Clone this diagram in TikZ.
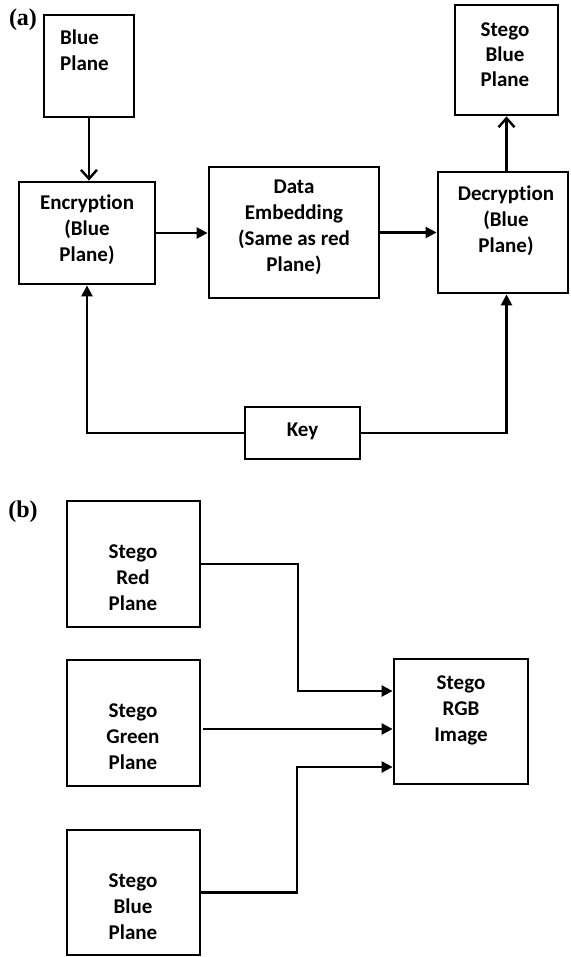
\documentclass[tikz,border=0pt]{standalone}
\usepackage{fontspec}
\setmainfont{Carlito}[Ligatures=NoCommon]
\newfontfamily\panelfont{Liberation Serif}
\usetikzlibrary{arrows.meta}
\begin{document}
\begin{tikzpicture}[x=1pt,y=-1pt,
  box/.style={draw, line width=2.8pt, inner sep=0pt},
  txt/.style={font=\fontsize{21}{26}\selectfont\bfseries, align=center, inner sep=0pt},
  panel/.style={font=\panelfont\fontsize{24}{26}\selectfont\bfseries, inner sep=0pt},
  arr/.style={line width=2.4pt, -{Triangle[length=11pt,width=11pt]}},
  openarr/.style={line width=2.4pt, -{Straight Barb[length=9pt,width=16pt,line width=2.4pt]}},
  link/.style={line width=2.4pt}
]
\useasboundingbox (0,0) rectangle (570,957);

% panel labels
\node[panel] (la) at (23,20) {(a)};
\node[panel] (lb) at (23,512) {(b)};

% (a) boxes
\node[box, minimum width=90pt, minimum height=102pt] (bp) at (89,66) {};
\node[txt, anchor=west, align=left] (bpt) at (60,50) {Blue\\Plane};

\node[box, minimum width=136pt, minimum height=102pt] (enc) at (87,233) {};
\node[txt] (enct) at (87,230) {Encryption\\(Blue\\Plane)};

\node[box, minimum width=170pt, minimum height=131pt] (emb) at (294,232.5) {};
\node[txt] (embt) at (294,227) {Data\\Embedding\\(Same as red\\Plane)};

\node[box, minimum width=130pt, minimum height=121pt] (dec) at (503,232.5) {};
\node[txt] (dect) at (506,221) {Decryption\\(Blue\\Plane)};

\node[box, minimum width=103pt, minimum height=110pt] (sbp) at (506.5,60) {};
\node[txt, font=\fontsize{21}{25}\selectfont\bfseries] (sbpt) at (505,55) {Stego\\Blue\\Plane};

\node[box, minimum width=115pt, minimum height=52pt] (key) at (302.5,433) {};
\node[txt] (keyt) at (302.5,431) {Key};

% (a) connectors
\draw[openarr] (bp.south) -- (bp.south |- enc.north);
\draw[arr] (enc.east) -- (enc.east -| emb.west);
\draw[arr] (emb.east) -- (emb.east -| dec.west);
\draw[openarr] (sbp.south |- dec.north) -- (sbp.south);
\draw[arr] (key.west) -| (enc.south);
\draw[arr] (key.east) -| (sbp.south |- dec.south);

% (b) boxes
\node[box, minimum width=133pt, minimum height=126pt] (red) at (133.5,564) {};
\node[txt] (redt) at (133,578) {Stego\\Red\\Plane};

\node[box, minimum width=133pt, minimum height=126pt] (green) at (133.5,723) {};
\node[txt] (greent) at (133,737) {Stego\\Green\\Plane};

\node[box, minimum width=133pt, minimum height=125pt] (blueb) at (133.5,892.5) {};
\node[txt] (bluebt) at (133,907) {Stego\\Blue\\Plane};

\node[box, minimum width=134pt, minimum height=125pt] (rgb) at (461,721.5) {};
\node[txt] (rgbt) at (461,710) {Stego\\RGB\\Image};

% (b) connectors
\coordinate (rbend) at (298,691);
\coordinate (gstart) at (203,729);
\coordinate (bbend) at (297,767);
\draw[arr] (red.east) -| (rbend) -- (rbend -| rgb.west);
\draw[arr] (gstart) -- (gstart -| rgb.west);
\draw[arr] (blueb.east) -| (bbend) -- (bbend -| rgb.west);
\end{tikzpicture}
\end{document}
